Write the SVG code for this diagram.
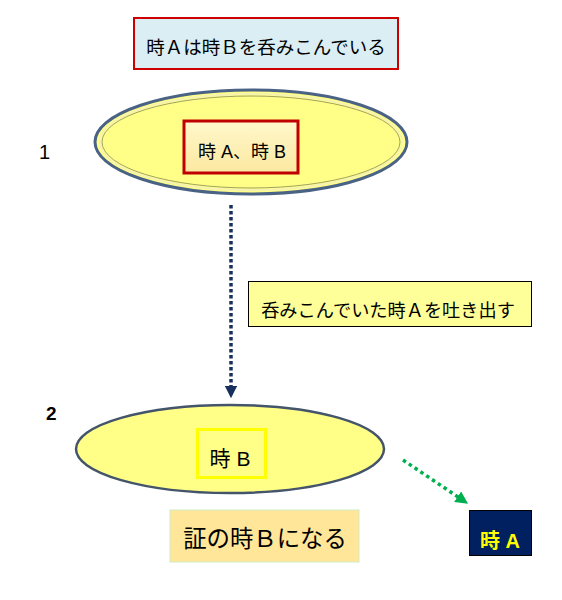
<svg xmlns="http://www.w3.org/2000/svg" width="562" height="600" viewBox="0 0 562 600">
<defs>
<style>
.t{font-family:"Liberation Sans","Noto Sans CJK JP",sans-serif;fill:#000;}
</style>
<linearGradient id="g1" x1="0" y1="0" x2="0" y2="1">
<stop offset="0" stop-color="#FFF8CC"/>
<stop offset="1" stop-color="#FCE8A0"/>
</linearGradient>
<marker id="ah" viewBox="0 0 10 10" refX="9" refY="5" markerWidth="3.6" markerHeight="3.6" orient="auto" markerUnits="strokeWidth">
<path d="M0,0 L10,5 L0,10 Z" fill="#17305E"/>
</marker>
<marker id="ag" viewBox="0 0 10 10" refX="9" refY="5" markerWidth="3.6" markerHeight="3.6" orient="auto" markerUnits="strokeWidth">
<path d="M0,0 L10,5 L0,10 Z" fill="#00B050"/>
</marker>
</defs>
<rect width="562" height="600" fill="#fff"/>
<g id="title">
<rect x="134" y="18" width="264" height="51" fill="#DAEEF3" stroke="#CC0000" stroke-width="2"/>
<text class="t" x="266" y="54" font-size="18.5" text-anchor="middle">時Ａは時Ｂを呑みこんでいる</text>
</g>
<g id="label1"><text class="t" x="39" y="159" font-size="20">1</text></g>
<g id="ellipse1">
<ellipse cx="251" cy="142" rx="156" ry="52" fill="#FFFF88" stroke="#4A6285" stroke-width="3"/>
<ellipse cx="251" cy="142" rx="151" ry="48" fill="none" stroke="#F6F3B0" stroke-width="2"/>
<ellipse cx="251" cy="142" rx="149" ry="46" fill="none" stroke="#8A8A50" stroke-width="0.8"/>
</g>
<g id="box1">
<rect x="184" y="121" width="114" height="52" fill="url(#g1)" stroke="#C00000" stroke-width="3"/>
<text class="t" x="242" y="158" font-size="18" text-anchor="middle">時 A、時 B</text>
</g>
<g id="box2">
<rect x="248.5" y="281.5" width="283" height="45" fill="#FFFF99" stroke="#000" stroke-width="1"/>
<text class="t" x="388" y="317" font-size="18.2" text-anchor="middle">呑みこんでいた時Ａを吐き出す</text>
</g>
<g id="label2"><text class="t" x="46" y="420" font-size="19" font-weight="bold">2</text></g>
<g id="ellipse2">
<ellipse cx="230" cy="449" rx="154" ry="44" fill="#FFFF88" stroke="#44546A" stroke-width="2.5"/>
</g>
<g id="box3">
<rect x="197.5" y="429.5" width="68" height="48" fill="#FFFF88" stroke="#FFFF00" stroke-width="3"/>
<text class="t" x="230" y="466" font-size="21" text-anchor="middle">時 B</text>
</g>
<g id="box4">
<rect x="170" y="510" width="189" height="52" fill="#FFE699" stroke="#D5EBC2" stroke-width="1"/>
<text class="t" x="265" y="547" font-size="23.4" text-anchor="middle">証の時Ｂになる</text>
</g>
<g id="box5">
<rect x="469.5" y="510.5" width="62" height="45" fill="#002060" stroke="#000" stroke-width="1"/>
<text class="t" x="500" y="548" font-size="20" font-weight="bold" text-anchor="middle" style="fill:#FFFF00">時 A</text>
</g>
<g id="connectors">
<line x1="231" y1="205" x2="231" y2="397" stroke="#17305E" stroke-width="3.5" stroke-dasharray="3.5 2.5" marker-end="url(#ah)"/>
<line x1="403" y1="460" x2="467" y2="503" stroke="#00B050" stroke-width="3.5" stroke-dasharray="3.5 3.5" marker-end="url(#ag)"/>
</g>
</svg>
